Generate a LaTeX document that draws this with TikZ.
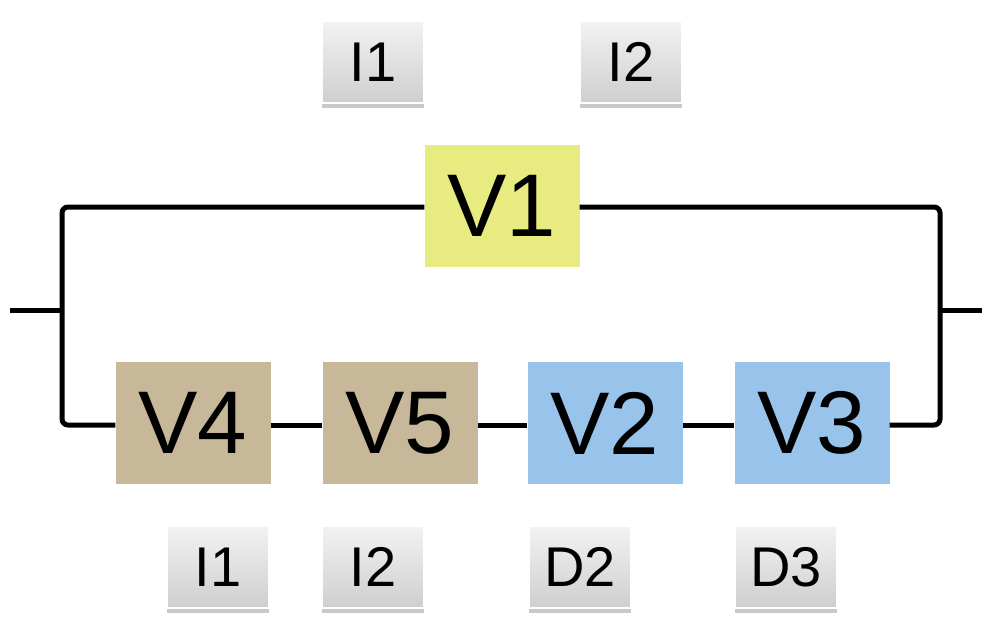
\documentclass[tikz,border=0pt]{standalone}
\usepackage{fontspec}
\setmainfont{Liberation Sans}
\usetikzlibrary{shadows}
\definecolor{vyellow}{RGB}{232,236,128}
\definecolor{vtan}{RGB}{199,184,153}
\definecolor{vblue}{RGB}{152,196,236}
\tikzset{
  valve/.style={minimum width=155pt, minimum height=122pt, inner sep=0pt,
    font=\fontsize{89}{89}\selectfont},
  tag/.style={minimum width=102pt, minimum height=82pt, inner sep=0pt,
    top color=black!5, bottom color=black!19, draw=white, line width=2pt,
    drop shadow={shadow xshift=0pt, shadow yshift=-5pt, fill=black!30, opacity=0.7},
    font=\fontsize{56}{56}\selectfont},
  wire/.style={line width=5pt, rounded corners=6pt}
}
\begin{document}
\begin{tikzpicture}[x=1pt,y=-1pt]
\useasboundingbox (0,0) rectangle (982,623);

% valves
\node[valve, fill=vyellow] (v1) at (502,206) {V1};
\node[valve, fill=vtan]    (v4) at (193,423) {V4};
\node[valve, fill=vtan]    (v5) at (400,423) {V5};
\node[valve, fill=vblue]   (v2) at (605,423) {V2};
\node[valve, fill=vblue]   (v3) at (812,423) {V3};

% tags
\node[tag] (t1) at (373,62) {I1};
\node[tag] (t2) at (631,62) {I2};
\node[tag] (b1) at (218,567) {I1};
\node[tag] (b2) at (373,567) {I2};
\node[tag] (b3) at (580,567) {D2};
\node[tag] (b4) at (786,567) {D3};

% junctions and terminals
\coordinate (jl) at (62,310);
\coordinate (jr) at (940,310);
\coordinate (inl) at (10,310);
\coordinate (outr) at (982,310);

% wiring
\draw[wire] (inl) -- (jl);
\draw[wire] (jr) -- (outr);
\draw[wire] (v1.west |- 0,207) -| (jl) |- (v4.west |- 0,425);
\draw[wire] (v1.east |- 0,207) -| (jr) |- (v3.east |- 0,425);
\draw[wire] (v4.east |- 0,425) -- (v5.west |- 0,425);
\draw[wire] (v5.east |- 0,425) -- (v2.west |- 0,425);
\draw[wire] (v2.east |- 0,425) -- (v3.west |- 0,425);
\end{tikzpicture}
\end{document}
